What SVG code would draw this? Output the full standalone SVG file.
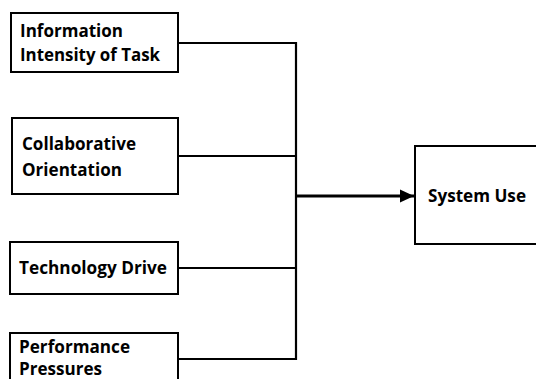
<svg xmlns="http://www.w3.org/2000/svg" width="536" height="379" viewBox="0 0 536 379">
<style>
.box{fill:#fff;stroke:#000;stroke-width:2}
.t{font-family:"Open Sans","Liberation Sans",sans-serif;font-weight:bold;font-size:17px;fill:#000}
.c{fill:none;stroke:#000;stroke-width:2.2}
</style>
<defs>
<marker id="ah" markerUnits="userSpaceOnUse" markerWidth="16" markerHeight="16" refX="14" refY="8" orient="auto">
<path d="M0,1.5 L14,8 L0,14.5 Z" fill="#000"/>
</marker>
</defs>
<g id="n1"><rect class="box" x="11" y="13" width="167" height="59"/>
<text class="t" x="20" y="37" textLength="103" lengthAdjust="spacingAndGlyphs">Information</text>
<text class="t" x="20" y="61" textLength="140" lengthAdjust="spacingAndGlyphs">Intensity of Task</text></g>
<g id="n2"><rect class="box" x="12" y="118" width="166" height="76"/>
<text class="t" x="22" y="150" textLength="114" lengthAdjust="spacingAndGlyphs">Collaborative</text>
<text class="t" x="22" y="176" textLength="100" lengthAdjust="spacingAndGlyphs">Orientation</text></g>
<g id="n3"><rect class="box" x="10" y="242" width="168" height="52"/>
<text class="t" x="19" y="274" textLength="148" lengthAdjust="spacingAndGlyphs">Technology Drive</text></g>
<g id="n4"><rect class="box" x="10" y="333" width="168" height="60"/>
<text class="t" x="19" y="353" textLength="111" lengthAdjust="spacingAndGlyphs">Performance</text>
<text class="t" x="19" y="375" textLength="83" lengthAdjust="spacingAndGlyphs">Pressures</text></g>
<g id="n5"><rect class="box" x="415" y="146" width="130" height="98"/>
<text class="t" x="428" y="202" textLength="98" lengthAdjust="spacingAndGlyphs">System Use</text></g>
<g id="connectors">
<path class="c" d="M178,43 H296 M178,156 H296 M178,268 H296 M178,359 H296 M296,42 V360"/>
<path d="M296,196 H414" stroke="#000" stroke-width="3" fill="none" marker-end="url(#ah)"/>
</g>
</svg>
